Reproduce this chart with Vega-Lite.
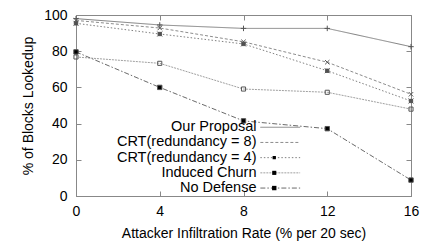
{
  "$schema": "https://vega.github.io/schema/vega-lite/v6.json",
  "autosize": "none",
  "width": 335,
  "height": 181,
  "padding": {"left": 76, "top": 15, "right": 12, "bottom": 48},
  "background": "white",
  "config": {
    "font": "Liberation Sans",
    "view": {"stroke": "#888", "strokeWidth": 1},
    "axis": {"grid": false, "domainColor": "#888", "tickColor": "#888", "labelColor": "#000", "titleColor": "#000", "labelFont": "Liberation Sans", "titleFont": "Liberation Sans", "labelFontSize": 14, "titleFontSize": 14, "titleFontWeight": "normal"},
    "legend": {"padding": 0}
  },
  "data": {"values": [
    {"rate": 0, "pct": 98, "series": "Our Proposal"},
    {"rate": 4, "pct": 94.5, "series": "Our Proposal"},
    {"rate": 8, "pct": 92.6, "series": "Our Proposal"},
    {"rate": 12, "pct": 92.6, "series": "Our Proposal"},
    {"rate": 16, "pct": 82.5, "series": "Our Proposal"},
    {"rate": 0, "pct": 97, "series": "CRT(redundancy = 8)"},
    {"rate": 4, "pct": 92.8, "series": "CRT(redundancy = 8)"},
    {"rate": 8, "pct": 85.2, "series": "CRT(redundancy = 8)"},
    {"rate": 12, "pct": 73.9, "series": "CRT(redundancy = 8)"},
    {"rate": 16, "pct": 56.2, "series": "CRT(redundancy = 8)"},
    {"rate": 0, "pct": 95.4, "series": "CRT(redundancy = 4)"},
    {"rate": 4, "pct": 89.5, "series": "CRT(redundancy = 4)"},
    {"rate": 8, "pct": 84, "series": "CRT(redundancy = 4)"},
    {"rate": 12, "pct": 69.2, "series": "CRT(redundancy = 4)"},
    {"rate": 16, "pct": 52.5, "series": "CRT(redundancy = 4)"},
    {"rate": 0, "pct": 76.8, "series": "Induced Churn"},
    {"rate": 4, "pct": 73.3, "series": "Induced Churn"},
    {"rate": 8, "pct": 59.1, "series": "Induced Churn"},
    {"rate": 12, "pct": 57.3, "series": "Induced Churn"},
    {"rate": 16, "pct": 48, "series": "Induced Churn"},
    {"rate": 0, "pct": 79.6, "series": "No Defense"},
    {"rate": 4, "pct": 60, "series": "No Defense"},
    {"rate": 8, "pct": 41.5, "series": "No Defense"},
    {"rate": 12, "pct": 37.2, "series": "No Defense"},
    {"rate": 16, "pct": 8.8, "series": "No Defense"}
  ]},
  "resolve": {"axis": {"x": "independent", "y": "independent"}, "scale": {"shape": "independent", "fill": "independent"}},
  "layer": [
    {
      "mark": {"type": "line", "strokeWidth": 1},
      "encoding": {
        "x": {"field": "rate", "type": "quantitative", "scale": {"domain": [0, 16], "nice": false, "zero": false},
          "axis": {"values": [0, 4, 8, 12, 16], "title": "Attacker Infiltration Rate (% per 20 sec)", "tickSize": -5, "labelPadding": 13, "titlePadding": 8, "labelFlush": false}},
        "y": {"field": "pct", "type": "quantitative", "scale": {"domain": [0, 100], "nice": false},
          "axis": {"values": [0, 20, 40, 60, 80, 100], "title": "% of Blocks Lookedup", "tickSize": -5, "labelPadding": 14, "titlePadding": 8}},
        "stroke": {"field": "series", "type": "nominal",
          "scale": {"domain": ["Our Proposal", "CRT(redundancy = 8)", "CRT(redundancy = 4)", "Induced Churn", "No Defense"],
                    "range": ["#808080", "#8c8c8c", "#808080", "#a0a0a0", "#6a6a6a"]},
          "legend": {"orient": "none", "legendX": 197, "legendY": 105, "title": null, "symbolType": "M-6,0H6", "symbolSize": 44, "symbolStrokeWidth": 1, "labelAlign": "right", "labelOffset": -31, "labelFontSize": 14.5, "labelFont": "Liberation Sans", "labelColor": "#000", "rowPadding": 0.2}},
        "strokeDash": {"field": "series", "type": "nominal",
          "scale": {"domain": ["Our Proposal", "CRT(redundancy = 8)", "CRT(redundancy = 4)", "Induced Churn", "No Defense"],
                    "range": [[1, 0], [3, 2], [1.5, 2], [2, 1], [5, 2, 1.5, 2]]}}
      }
    },
    {
      "mark": {"type": "point", "filled": true, "size": 30, "strokeWidth": 1, "opacity": 1, "stroke": "#555555"},
      "encoding": {
        "x": {"field": "rate", "type": "quantitative", "axis": {"orient": "top", "values": [0, 4, 8, 12, 16], "labels": false, "domain": false, "title": null, "tickSize": -5}},
        "y": {"field": "pct", "type": "quantitative", "axis": {"orient": "right", "values": [0, 20, 40, 60, 80, 100], "labels": false, "domain": false, "title": null, "tickSize": -5}},
        "shape": {"field": "series", "type": "nominal", "sort": ["Our Proposal", "CRT(redundancy = 8)", "CRT(redundancy = 4)", "Induced Churn", "No Defense"],
          "scale": {"range": ["M-1,0H1M0,-1V1", "M-0.8,-0.8L0.8,0.8M-0.8,0.8L0.8,-0.8", "M-0.6,-0.6H0.6V0.6H-0.6ZM-0.9,-0.9L0.9,0.9M-0.9,0.9L0.9,-0.9", "M-0.75,-0.75H0.75V0.75H-0.75Z", "M-0.8,-0.8H0.8V0.8H-0.8Z"]},
          "legend": {"orient": "none", "legendX": 191, "legendY": 105, "title": null, "symbolSize": 30, "symbolStrokeColor": "#555", "symbolStrokeWidth": 1, "labelExpr": "' '", "labelFontSize": 14.5, "labelFont": "Liberation Sans", "rowPadding": 0.2}},
        "fill": {"field": "series", "type": "nominal", "sort": ["Our Proposal", "CRT(redundancy = 8)", "CRT(redundancy = 4)", "Induced Churn", "No Defense"],
          "scale": {"range": ["transparent", "transparent", "#444444", "transparent", "#000000"]}}
      }
    }
  ]
}
